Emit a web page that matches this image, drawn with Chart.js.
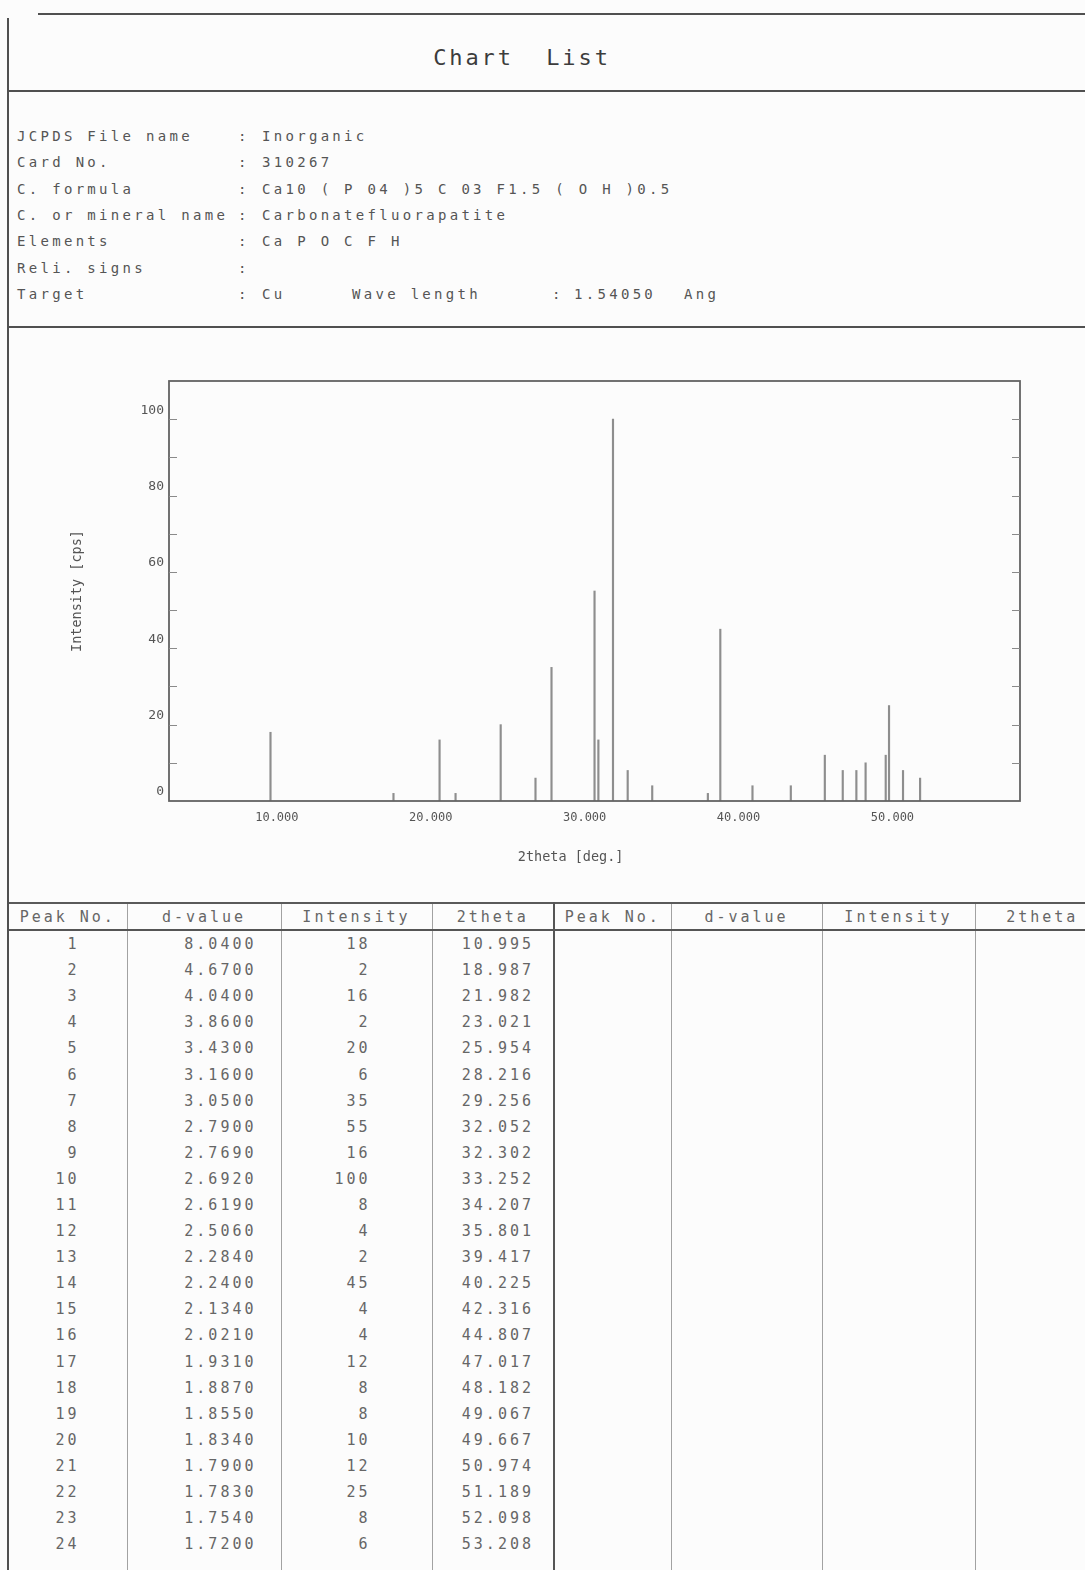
<!DOCTYPE html>
<html lang="en">
<head>
<meta charset="utf-8">
<title>Chart List - Carbonatefluorapatite</title>
<script src="https://cdn.jsdelivr.net/npm/chart.js@4.4.1/dist/chart.umd.min.js"></script>
<style>
  html, body { margin: 0; padding: 0; }
  body {
    position: relative;
    width: 1085px;
    height: 1570px;
    overflow: hidden;
    background: #fcfcfc;
    font-family: "DejaVu Sans Mono", monospace;
    color: #575757;
  }
  .rule { position: absolute; background: #505050; }
  .heading {
    position: absolute; left: 0; top: 44px; width: 1044px;
    text-align: center; font-size: 22px; line-height: 28px;
    letter-spacing: 2.9px; white-space: pre; color: #3c3c3c;
  }
  .info {
    position: absolute; font-size: 14px; line-height: 16px;
    letter-spacing: 3.3px; white-space: pre; color: #555;
  }
  #chart-box { position: absolute; left: 0; top: 330px; width: 1085px; height: 570px; }
  table {
    position: absolute; left: 9px; top: 902px; width: 1100px;
    border-collapse: collapse; table-layout: fixed;
    border-top: 2px solid #5a5a5a;
    font-size: 15px; letter-spacing: 3px; color: #666;
  }
  th, td {
    padding: 0; height: 26.1px; white-space: nowrap; overflow: hidden;
    border-left: 1px solid #a2a2a2;
  }
  th { font-weight: normal; text-align: center; height: 25px; border-bottom: 2px solid #555; }
  th:first-child, td:first-child { border-left: none; }
  th.sep, td.sep { border-left: 2px solid #555; }
  td.c1 { text-align: right; padding-right: 47px; }
  td.c2 { text-align: right; padding-right: 24px; }
  td.c3 { text-align: right; padding-right: 61px; }
  td.c4 { text-align: right; padding-right: 19px; }
  tr.filler td { height: 60px; }
</style>
</head>
<body>
<div class="rule" style="left:38px; top:13px; width:1047px; height:2px;"></div>
<div class="rule" style="left:7px; top:18px; width:2px; height:1552px;"></div>
<div class="rule" style="left:8px; top:90px; width:1077px; height:2px;"></div>
<div class="rule" style="left:8px; top:326px; width:1077px; height:2px;"></div>

<div class="heading">Chart  List</div>
<div id="info"></div>

<div id="chart-box"><canvas id="xrd-chart" width="1085" height="570"></canvas></div>

<table>
  <colgroup>
    <col style="width:118px"><col style="width:154px"><col style="width:151px"><col style="width:122px">
    <col style="width:117px"><col style="width:151px"><col style="width:153px"><col style="width:134px">
  </colgroup>
  <thead>
    <tr>
      <th>Peak No.</th><th>d-value</th><th>Intensity</th><th>2theta</th>
      <th class="sep">Peak No.</th><th>d-value</th><th>Intensity</th><th>2theta</th>
    </tr>
  </thead>
  <tbody id="peak-rows"></tbody>
</table>

<script>
// card 310267, peak list
const peakNo = [1, 2, 3, 4, 5, 6, 7, 8, 9, 10, 11, 12, 13, 14, 15, 16, 17, 18, 19, 20, 21, 22, 23, 24];
const dValue = [8.04, 4.67, 4.04, 3.86, 3.43, 3.16, 3.05, 2.79, 2.769, 2.692, 2.619, 2.506,
                2.284, 2.24, 2.134, 2.021, 1.931, 1.887, 1.855, 1.834, 1.79, 1.783, 1.754, 1.72];
const intensity = [18, 2, 16, 2, 20, 6, 35, 55, 16, 100, 8, 4, 2, 45, 4, 4, 12, 8, 8, 10, 12, 25, 8, 6];
const twoTheta = [10.995, 18.987, 21.982, 23.021, 25.954, 28.216, 29.256, 32.052, 32.302, 33.252, 34.207, 35.801,
                  39.417, 40.225, 42.316, 44.807, 47.017, 48.182, 49.067, 49.667, 50.974, 51.189, 52.098, 53.208];

const xTicks = [10, 20, 30, 40, 50];
const yTicks = [0, 20, 40, 60, 80, 100];
const yTickMarks = [10, 20, 30, 40, 50, 60, 70, 80, 90, 100];

const infoRows = [
  ["JCPDS File name", "Inorganic"],
  ["Card No.", "310267"],
  ["C. formula", "Ca10 ( P 04 )5 C 03 F1.5 ( O H )0.5"],
  ["C. or mineral name", "Carbonatefluorapatite"],
  ["Elements", "Ca P O C F H"],
  ["Reli. signs", ""],
  ["Target", "Cu"],
];

function putText(parent, text, x, y) {
  let el = document.createElement("div");
  el.className = "info";
  el.style.left = x + "px";
  el.style.top = y + "px";
  el.textContent = text;
  parent.appendChild(el);
}

function setupInfo() {
  let box = document.getElementById("info");
  infoRows.forEach(([label, value], i) => {
    let top = 128 + i * 26.33;
    putText(box, label, 17, top);
    putText(box, ":", 238, top);
    putText(box, value, 262, top);
  });
  let targetTop = 128 + 6 * 26.33;
  putText(box, "Wave length", 352, targetTop);
  putText(box, ":", 552, targetTop);
  putText(box, "1.54050", 574, targetTop);
  putText(box, "Ang", 684, targetTop);
}

function setupTable() {
  let rows = peakNo.map((n, i) => `
    <tr>
      <td class="c1">${n}</td>
      <td class="c2">${dValue[i].toFixed(4)}</td>
      <td class="c3">${intensity[i]}</td>
      <td class="c4">${twoTheta[i].toFixed(3)}</td>
      <td class="sep"></td><td></td><td></td><td></td>
    </tr>`);
  rows.push(`<tr class="filler"><td></td><td></td><td></td><td></td><td class="sep"></td><td></td><td></td><td></td></tr>`);
  document.getElementById("peak-rows").innerHTML = rows.join("");
}

// box around the plot, inward ticks on both y spines, x axis title
const plotFrame = {
  id: "plotFrame",
  afterDraw(chart, args, opts) {
    const { ctx, chartArea: a, scales } = chart;
    ctx.save();
    ctx.strokeStyle = opts.color;
    ctx.lineWidth = opts.lineWidth;
    ctx.strokeRect(a.left, a.top, a.right - a.left, a.bottom - a.top);

    ctx.strokeStyle = opts.tickColor;
    ctx.lineWidth = 1.2;
    ctx.beginPath();
    yTickMarks.forEach((v) => {
      let py = Math.round(scales.y.getPixelForValue(v)) + 0.5;
      ctx.moveTo(a.left, py);
      ctx.lineTo(a.left + opts.tickLength, py);
      ctx.moveTo(a.right, py);
      ctx.lineTo(a.right - opts.tickLength, py);
    });
    ctx.stroke();

    ctx.fillStyle = opts.titleColor;
    ctx.font = opts.titleFont;
    ctx.textAlign = "center";
    ctx.textBaseline = "middle";
    ctx.fillText(opts.xTitle, a.left + (a.right - a.left) * opts.xTitleAt, a.bottom + opts.xTitleGap);
    ctx.restore();
  },
};

const textColor = "#555";
const monoFont = "DejaVu Sans Mono";

function drawChart() {
  const ctx = document.getElementById("xrd-chart");

  new Chart(ctx, {
    type: "bar",
    data: {
      datasets: [
        {
          label: "Intensity",
          data: twoTheta.map((x, i) => ({ x: x, y: intensity[i] })),
          backgroundColor: "#8e8e8e",
          borderWidth: 0,
          barThickness: 1.5,
        },
      ],
    },
    plugins: [plotFrame],
    options: {
      responsive: false,
      animation: false,
      devicePixelRatio: 1,
      layout: { padding: { top: 51, right: 65, bottom: 59, left: 60 } },
      plugins: {
        legend: { display: false },
        tooltip: { enabled: false },
        plotFrame: {
          color: "#636363",
          lineWidth: 1.8,
          tickColor: "#8a8a8a",
          tickLength: 8,
          titleColor: textColor,
          titleFont: `13.5px "${monoFont}"`,
          xTitle: "2theta [deg.]",
          xTitleAt: 0.472,
          xTitleGap: 56,
        },
      },
      scales: {
        x: {
          type: "linear",
          min: 4.4,
          max: 59.7,
          offset: false,
          grid: { display: false, drawTicks: false },
          border: { display: false },
          afterBuildTicks: (scale) => {
            scale.ticks = xTicks.map((v) => ({ value: v }));
          },
          afterFit: (scale) => {
            scale.height = 40;
          },
          ticks: {
            align: "start",
            padding: 10,
            maxRotation: 0,
            autoSkip: false,
            color: textColor,
            font: { family: monoFont, size: 12 },
            callback: (v) => Number(v).toFixed(3),
          },
        },
        y: {
          min: 0,
          max: 110,
          grid: { display: false, drawTicks: false },
          border: { display: false },
          afterBuildTicks: (scale) => {
            scale.ticks = yTicks.map((v) => ({ value: v }));
          },
          afterFit: (scale) => {
            scale.width = 109;
          },
          ticks: {
            padding: 5,
            labelOffset: -9,
            color: textColor,
            font: { family: monoFont, size: 13 },
          },
          title: {
            display: true,
            text: "Intensity [cps]",
            color: textColor,
            padding: { top: 9, bottom: 0 },
            font: { family: monoFont, size: 13.5 },
          },
        },
      },
    },
  });
}

setupInfo();
setupTable();
drawChart();
</script>
</body>
</html>
